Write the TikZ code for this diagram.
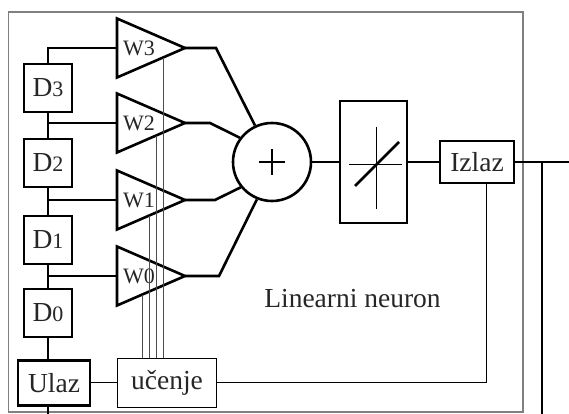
\documentclass[tikz,border=0pt]{standalone}
\usepackage{fontspec}
\setmainfont{Liberation Serif}
\usetikzlibrary{calc}
\newcommand\smalldig[1]{{\fontsize{22}{22}\selectfont #1}}
\begin{document}
\begin{tikzpicture}[x=1pt,y=1pt,
  thickline/.style={line width=2.6pt},
  thinline/.style={line width=1pt},
  learnline/.style={line width=0.9pt, black!70},
  framestyle/.style={line width=1.1pt, black!50},
  txt/.style={font=\fontsize{27.5}{30}\selectfont, text=black!85},
  dbox/.style={draw, line width=2.6pt, inner sep=0pt, minimum width=48, minimum height=48, font=\fontsize{27.5}{28}\selectfont, text=black!85},
  bigbox/.style={draw, line width=2.6pt, inner sep=0pt, txt},
  wlabel/.style={inner sep=0pt, font=\fontsize{22}{22}\selectfont, text=black!85},
]
\useasboundingbox (0,0) rectangle (569,414);
\draw[framestyle] (8.5,2) rectangle (523,402);

% delay chain
\node[dbox] (D3) at (48,326) {D\smalldig{3}};
\node[dbox] (D2) at (48,251) {D\smalldig{2}};
\node[dbox] (D1) at (48,174) {D\smalldig{1}};
\node[dbox] (D0) at (48,101) {D\smalldig{0}};
\node[bigbox, minimum width=72, minimum height=45] (Ulaz) at (54,31) {Ulaz};
\node[draw, thinline, inner sep=0pt, minimum width=99, minimum height=49, txt] (uc) at (167,31) {učenje};

% weights (triangles)
\foreach \n/\yc in {3/366, 2/291, 1/214, 0/138} {
  \coordinate (w\n-bl) at (117,\yc-29.5);
  \coordinate (w\n-tl) at (117,\yc+29.5);
  \coordinate (w\n-a) at (185,\yc);
  \coordinate (w\n-in) at (117,\yc);
  \draw[thickline, line join=miter] (w\n-tl) -- (w\n-a) -- (w\n-bl) -- cycle;
  \node[wlabel] (w\n-lab) at (139,\yc) {W\n};
}

% chain connections
\coordinate (inbot) at (48,0);
\draw[thickline] (D3.north) |- (w3-in);
\draw[thickline] (D3.south) -- (D2.north);
\draw[thickline] (D2.south) -- (D1.north);
\draw[thickline] (D1.south) -- (D0.north);
\draw[thickline] (D0.south) -- (D0.south |- Ulaz.north);
\draw[thickline] (Ulaz.south -| inbot) -- (inbot);
\draw[thickline] (w2-in -| D3.south) -- (w2-in);
\draw[thickline] (w1-in -| D3.south) -- (w1-in);
\draw[thickline] (w0-in -| D3.south) -- (w0-in);

% summation
\node[draw, circle, line width=2.6pt, minimum size=78, inner sep=0pt] (sum) at (272,252) {};
\draw[line width=1.3pt] ($(sum)+(-13,0)$) -- ($(sum)+(13,0)$);
\draw[line width=1.3pt] ($(sum)+(0,-13)$) -- ($(sum)+(0,13)$);
\draw[thickline] (w3-a) -- ++(31,0) -- (sum.115);
\draw[thickline] (w2-a) -- ++(25,0) -- (sum.143);
\draw[thickline] (w1-a) -- ++(30,0) -- (sum.219);
\draw[thickline] (w0-a) -- ++(34,0) -- (sum.248);

% activation
\node[draw, line width=2.6pt, inner sep=0pt, minimum width=67, minimum height=122] (act) at (373.5,252) {};
\draw[thinline] (349,249) -- (402,249);
\draw[thinline] (376,287) -- (376,205);
\draw[thickline] (355,228) -- (399,272);
\draw[thickline] (sum.east) -- (act.west);

% output
\node[bigbox, minimum width=74, minimum height=42] (izlaz) at (477,252) {Izlaz};
\draw[thickline] (act.east) -- (izlaz.west);
\coordinate (outend) at (569,252);
\coordinate (tap) at (542,252);
\coordinate (tapbot) at (542,0);
\draw[thickline] (izlaz.east) -- (outend);
\draw[thickline] (tap) -- (tapbot);

% learning
\coordinate (fb) at (486,0);
\draw[thinline] (izlaz.south -| fb) |- (uc.east);
\draw[thinline] (Ulaz.east) -- (uc.west);
\coordinate (l0) at ($(w0-bl)!0.368!(w0-a)$);
\coordinate (l1) at ($(w1-bl)!0.471!(w1-a)$);
\coordinate (l2) at ($(w2-bl)!0.574!(w2-a)$);
\coordinate (l3) at ($(w3-bl)!0.676!(w3-a)$);
\foreach \k in {0,1,2,3} { \draw[learnline] (l\k) -- (l\k |- uc.north); }

\node[txt, inner sep=0pt] (lbl) at (352.5,115) {Linearni neuron};
\end{tikzpicture}
\end{document}
